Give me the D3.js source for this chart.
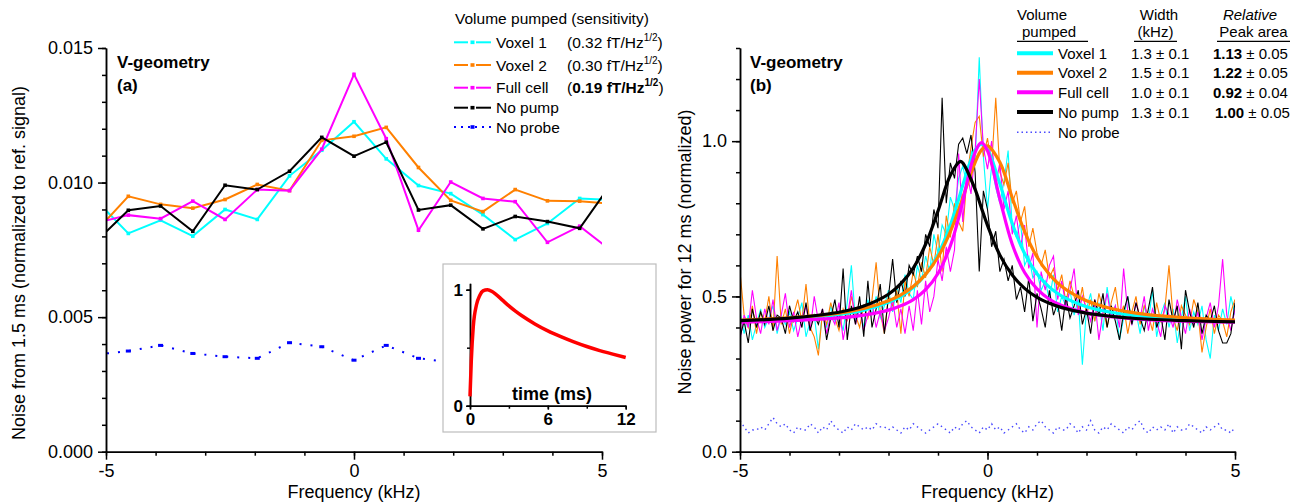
<!DOCTYPE html>
<html>
<head>
<meta charset="utf-8">
<script src="https://cdn.jsdelivr.net/npm/d3@7"></script>
<style>
  body { margin: 0; background: #fff; }
  svg { font-family: "Liberation Sans", Arial, sans-serif; }
  .axis path, .axis line { stroke: #000; stroke-width: 1.5; }
  .axis text { font-size: 18px; fill: #000; font-family: "Liberation Sans", Arial, sans-serif; }
  .inset .axis text { font-size: 17px; font-weight: bold; }
</style>
</head>
<body>
<svg id="chart"></svg>
<script>
// ---------- panel (a): noise from 1.5 ms windows, one point every 0.65 kHz
const freqA = [-5.2, -4.55, -3.9, -3.25, -2.6, -1.95, -1.3, -0.65, 0, 0.65, 1.3, 1.95, 2.6, 3.25, 3.9, 4.55, 5.2];
const voxel1A = [0.00934, 0.00811, 0.00860, 0.00801, 0.00900, 0.00863, 0.01025, 0.01120, 0.01226, 0.01088, 0.00989, 0.00959, 0.00881, 0.00788, 0.00848, 0.00941, 0.00936];
const voxel2A = [0.00819, 0.00949, 0.00919, 0.00905, 0.00937, 0.00993, 0.00970, 0.01157, 0.01172, 0.01205, 0.01056, 0.00934, 0.00892, 0.00974, 0.00932, 0.00931, 0.00921];
const fullA   = [0.00850, 0.00879, 0.00866, 0.00931, 0.00863, 0.00974, 0.00970, 0.01124, 0.01402, 0.01163, 0.00823, 0.01002, 0.00941, 0.00929, 0.00778, 0.00838, 0.00745];
const noPumpA = [0.00781, 0.00897, 0.00913, 0.00819, 0.00990, 0.00974, 0.01042, 0.01168, 0.01098, 0.01150, 0.00898, 0.00916, 0.00828, 0.00874, 0.00855, 0.00830, 0.01000];
const noProbeA = [0.00361, 0.00374, 0.00395, 0.00365, 0.00353, 0.00347, 0.00405, 0.00390, 0.00340, 0.00395, 0.00347, 0.00332];

// inset: pump response vs time
const timeI = [0, 0.1, 0.25, 0.5, 0.75, 1, 1.35, 1.7, 2, 2.5, 3, 3.5, 4, 5, 6, 7, 8, 9, 10, 11, 12];
const respI = [0.08, 0.39, 0.68, 0.87, 0.95, 0.99, 1.0, 0.985, 0.96, 0.91, 0.86, 0.815, 0.775, 0.705, 0.645, 0.595, 0.55, 0.51, 0.475, 0.445, 0.415];

// ---------- panel (b): noise power for 12 ms, bins of 1/12 kHz from -5 kHz
const voxel1B = [.45,.38,.44,.36,.41,.46,.40,.43,.47,.38, .44,.41,.45,.39,.43,.48,.37,.42,.44,.33,
  .45,.40,.47,.42,.44,.39,.48,.60,.42,.46, .40,.49,.44,.50,.43,.47,.52,.45,.53,.48,
  .57,.51,.49,.60,.55,.63,.58,.70,.64,.73, .70,.82,.78,.88,.92,.86,.97,.93,1.27,.95,
  .78,.92,.85,.80,.87,.97,.72,.69,.74,.60, .63,.56,.58,.52,.55,.49,.57,.45,.50,.47,
  .52,.44,.49,.28,.46,.51,.42,.48,.39,.53, .44,.47,.36,.43,.50,.41,.45,.38,.47,.42,
  .52,.37,.44,.48,.40,.46,.35,.43,.50,.39, .45,.41,.47,.36,.30,.44,.39,.46,.41,.50, .44];
const voxel2B = [.58,.44,.40,.47,.38,.45,.42,.50,.39,.63, .41,.46,.38,.44,.49,.42,.54,.40,.37,.31,
  .45,.41,.48,.43,.39,.46,.42,.50,.44,.40, .47,.43,.49,.61,.45,.38,.50,.47,.52,.38,
  .55,.50,.58,.53,.61,.56,.66,.60,.70,.58, .76,.69,.80,.74,.71,.88,.98,1.06,1.08,.95,
  1.01,.92,1.14,.90,.86,.93,.80,.84,.74,.79, .66,.72,.64,.60,.65,.56,.59,.52,.57,.48,
  .55,.50,.46,.53,.44,.49,.42,.51,.46,.40, .48,.53,.43,.47,.38,.45,.50,.41,.47,.44,
  .39,.48,.42,.46,.60,.43,.39,.47,.44,.41, .49,.45,.32,.40,.46,.38,.44,.42,.37,.45, .49];
const fullB = [.36,.44,.40,.52,.43,.38,.46,.41,.49,.39, .44,.51,.40,.45,.37,.43,.47,.39,.50,.42,
  .46,.38,.44,.41,.48,.36,.43,.52,.41,.46, .39,.44,.48,.40,.45,.39,.43,.49,.40,.46,
  .38,.47,.39,.52,.41,.55,.45,.50,.62,.55, .66,.58,.65,.96,.74,.90,.83,.97,1.20,.98,
  .91,1.00,.86,.93,.78,.84,.70,.76,.66,.73, .59,.64,.40,.58,.52,.60,.63,.49,.55,.47,
  .52,.59,.44,.50,.46,.42,.49,.36,.45,.51, .43,.47,.40,.59,.45,.41,.48,.43,.50,.39,
  .46,.42,.37,.47,.44,.40,.49,.43,.38,.46, .41,.45,.36,.43,.48,.40,.47,.62,.44,.39, .46];
const noPumpB = [.37,.42,.35,.46,.40,.45,.41,.47,.39,.44, .43,.38,.47,.42,.45,.40,.48,.39,.44,.41,
  .46,.36,.43,.49,.40,.59,.36,.47,.41,.50, .37,.55,.40,.46,.54,.38,.50,.62,.48,.55,
  .50,.60,.57,.63,.58,.70,.66,.78,.72,1.14, .80,.93,.88,.99,1.01,.96,1.02,.90,.58,.84,
  .78,.66,.71,.58,.62,.55,.60,.49,.53,.45, .56,.42,.51,.46,.40,.52,.44,.48,.39,.50,
  .43,.47,.52,.41,.46,.38,.49,.44,.51,.40, .47,.42,.36,.45,.50,.41,.48,.43,.39,.46,
  .53,.40,.44,.36,.49,.42,.47,.33,.52,.45, .40,.48,.38,.44,.42,.47,.39,.35,.35,.38, .48];
const noProbeB = [.10,.08,.06,.07,.07,.08,.07,.09,.11,.09,.08,.09,.07,.06,.08,.07,.07,.09,.08,.06,
  .08,.07,.10,.08,.07,.06,.08,.07,.09,.08, .07,.08,.07,.09,.08,.08,.07,.08,.07,.06,
  .08,.07,.09,.08,.07,.06,.07,.08,.09,.08, .07,.06,.08,.07,.09,.10,.08,.07,.06,.08,
  .07,.09,.07,.08,.06,.07,.08,.09,.07,.06, .08,.07,.09,.10,.08,.07,.06,.08,.07,.07,
  .09,.08,.06,.08,.07,.10,.07,.06,.08,.07, .09,.08,.07,.06,.08,.07,.09,.10,.07,.06,
  .08,.07,.08,.07,.09,.06,.08,.07,.07,.09, .08,.07,.06,.08,.07,.08,.09,.07,.07,.06, .08];
const binWidthB = 1 / 12;

// Lorentzian fits
const freqFit = [-5, -4, -3, -2.5, -2, -1.75, -1.5, -1.25, -1, -0.75, -0.55, -0.5, -0.25, -0.125, 0, 0.25, 0.5, 0.75, 1, 1.25, 1.5, 2, 2.5, 3, 4, 5];
const voxel1Fit = [.422,.428,.442,.456,.481,.500,.529,.571,.635,.730,.831,.858,.971,.990,.973,.863,.735,.638,.573,.530,.501,.467,.449,.438,.426,.421];
const voxel2Fit = [.424,.431,.446,.461,.486,.505,.532,.571,.627,.709,.794,.818,.932,.971,.985,.932,.818,.709,.627,.571,.532,.486,.461,.446,.431,.424];
const fullFit   = [.417,.422,.431,.440,.456,.470,.490,.522,.574,.663,.773,.806,.964,.995,.969,.813,.668,.577,.524,.491,.471,.447,.435,.428,.420,.417];
const noPumpFit = [.422,.430,.449,.469,.507,.541,.591,.668,.775,.890,.935,.930,.845,.786,.729,.633,.569,.526,.497,.478,.464,.446,.436,.429,.422,.418];

// legend text
const names = ['Voxel 1', 'Voxel 2', 'Full cell', 'No pump', 'No probe'];
const sensitivity = ['0.32', '0.30', '0.19'];
const widths = ['1.3 ± 0.1', '1.5 ± 0.1', '1.0 ± 0.1', '1.3 ± 0.1'];
const areas = ['1.13', '1.22', '0.92', '1.00'];
const areaErr = ['0.05', '0.05', '0.04', '0.05'];

const colors = ['#00ffff', '#ff8000', '#ff00ff', '#000000'];
const noProbeColorA = '#0000ff', noProbeColorB = '#4a4aff';

const svg = d3.select('#chart').attr('width', 1298).attr('height', 502);

function drawAxes(g, x, y, o) {
  const y0 = y.range()[0], x0 = x.range()[0];
  g.append('g').attr('class', 'axis').attr('transform', `translate(0,${y0})`)
    .call(d3.axisBottom(x).tickValues(o.xMinor).tickSize(o.minor).tickFormat('').tickSizeOuter(0));
  g.append('g').attr('class', 'axis').attr('transform', `translate(0,${y0})`)
    .call(d3.axisBottom(x).tickValues(o.xMajor).tickSize(o.major).tickPadding(o.xPad).tickFormat(o.xFmt).tickSizeOuter(0));
  g.append('g').attr('class', 'axis').attr('transform', `translate(${x0},0)`)
    .call(d3.axisLeft(y).tickValues(o.yMinor).tickSize(o.minor).tickFormat('').tickSizeOuter(0));
  g.append('g').attr('class', 'axis').attr('transform', `translate(${x0},0)`)
    .call(d3.axisLeft(y).tickValues(o.yMajor).tickSize(o.major).tickPadding(o.yPad).tickFormat(o.yFmt).tickSizeOuter(0));
}

// ================= panel (a) =================
const xA = d3.scaleLinear().domain([-5, 5]).range([106, 602]);
const yA = d3.scaleLinear().domain([0, 0.015]).range([451.7, 48]);
const gA = svg.append('g');

gA.append('clipPath').attr('id', 'clipA').append('rect')
  .attr('x', xA(-5)).attr('y', 30).attr('width', xA(5) - xA(-5)).attr('height', yA(0) - 30);

const lineA = d3.line().x(d => xA(d[0])).y(d => yA(d[1]));
const plotA = gA.append('g').attr('clip-path', 'url(#clipA)');

// no probe (dotted, with square markers)
const probePts = freqA.slice(0, noProbeA.length).map((f, i) => [f, noProbeA[i]]);
plotA.append('path').datum(probePts).attr('d', lineA)
  .attr('fill', 'none').attr('stroke', noProbeColorA).attr('stroke-width', 2).attr('stroke-dasharray', '2,9');
plotA.selectAll('.mk-probe').data(probePts).join('rect')
  .attr('x', d => xA(d[0]) - 2.5).attr('y', d => yA(d[1]) - 1.5).attr('width', 5).attr('height', 3)
  .attr('fill', noProbeColorA);

[voxel1A, voxel2A, fullA, noPumpA].forEach((vals, k) => {
  const pts = freqA.map((f, i) => [f, vals[i]]);
  plotA.append('path').datum(pts).attr('d', lineA)
    .attr('fill', 'none').attr('stroke', colors[k]).attr('stroke-width', 2);
  plotA.selectAll(null).data(pts).join('rect')
    .attr('x', d => xA(d[0]) - 1.8).attr('y', d => yA(d[1]) - 1.8).attr('width', 3.6).attr('height', 3.6)
    .attr('fill', colors[k]);
});

drawAxes(gA, xA, yA, {
  xMajor: [-5, 0, 5], xMinor: [-5, -4, -3, -2, -1, 0, 1, 2, 3, 4, 5], xFmt: d => String(d), xPad: 5,
  yMajor: [0, 0.005, 0.01, 0.015], yMinor: d3.range(0, 16).map(v => v / 1000), yFmt: d3.format('.3f'), yPad: 5,
  major: 8, minor: 4
});

gA.append('text').attr('x', 354).attr('y', 498).attr('text-anchor', 'middle')
  .attr('font-size', 18).text('Frequency (kHz)');
gA.append('text').attr('transform', 'translate(25,263) rotate(-90)').attr('text-anchor', 'middle')
  .attr('font-size', 18).text('Noise from 1.5 ms (normalized to ref. signal)');
gA.append('text').attr('x', 117).attr('y', 68).attr('font-size', 17).attr('font-weight', 'bold').text('V-geometry');
gA.append('text').attr('x', 117).attr('y', 91).attr('font-size', 17).attr('font-weight', 'bold').text('(a)');

// legend (a)
const legA = gA.append('g').attr('font-size', 15.5);
legA.append('text').attr('x', 455).attr('y', 24).text('Volume pumped (sensitivity)');
const rowA = [42.3, 65, 87.7, 107.7, 127];
names.forEach((n, i) => {
  const cy = rowA[i];
  const c = i < 4 ? colors[i] : noProbeColorA;
  if (i < 4) {
    legA.append('line').attr('x1', 454).attr('x2', 468).attr('y1', cy).attr('y2', cy).attr('stroke', c).attr('stroke-width', 2);
    legA.append('line').attr('x1', 476).attr('x2', 491).attr('y1', cy).attr('y2', cy).attr('stroke', c).attr('stroke-width', 2);
  } else {
    legA.append('line').attr('x1', 454).attr('x2', 491).attr('y1', cy).attr('y2', cy)
      .attr('stroke', c).attr('stroke-width', 2).attr('stroke-dasharray', '2,5');
  }
  legA.append('rect').attr('x', 470.5).attr('y', cy - 1.8).attr('width', 4).attr('height', 3.6).attr('fill', c);
  legA.append('text').attr('x', 496).attr('y', cy + 5.5).text(n);
  if (i < 3) {
    const t = legA.append('text').attr('x', 567).attr('y', cy + 5.5);
    const w = i === 2 ? 'bold' : null;
    t.append('tspan').text('(');
    t.append('tspan').attr('font-weight', w).text(sensitivity[i] + ' fT/Hz');
    t.append('tspan').attr('font-weight', w).attr('font-size', 10).attr('dy', -7).text('1/2');
    t.append('tspan').attr('dy', 7).text(')');
  }
});

// inset
const gI = svg.append('g').attr('class', 'inset');
gI.append('rect').attr('x', 443).attr('y', 264).attr('width', 213).attr('height', 168)
  .attr('fill', '#fff').attr('stroke', '#bdbdbd').attr('stroke-width', 1.2);
const xI = d3.scaleLinear().domain([0, 12]).range([470, 625.7]);
const yI = d3.scaleLinear().domain([0, 1.055]).range([405.7, 283.3]);
drawAxes(gI, xI, yI, {
  xMajor: [0, 6, 12], xMinor: [0, 3, 6, 9, 12], xFmt: d => String(d), xPad: 3,
  yMajor: [0, 1], yMinor: [0, 0.5, 1], yFmt: d => String(d), yPad: 3,
  major: 4, minor: 3
});
gI.append('path').datum(timeI.map((t, i) => [t, respI[i]]))
  .attr('d', d3.line().x(d => xI(d[0])).y(d => yI(d[1])).curve(d3.curveMonotoneX))
  .attr('fill', 'none').attr('stroke', '#ff0000').attr('stroke-width', 3.5);
gI.append('text').attr('x', 512).attr('y', 400).attr('font-size', 18).attr('font-weight', 'bold').text('time (ms)');

// ================= panel (b) =================
const xB = d3.scaleLinear().domain([-5, 5]).range([740, 1235]);
const yB = d3.scaleLinear().domain([0, 1.3]).range([451.7, 48]);
const gB = svg.append('g');
gB.append('clipPath').attr('id', 'clipB').append('rect')
  .attr('x', xB(-5)).attr('y', 30).attr('width', xB(5) - xB(-5)).attr('height', yB(0) - 30);
const plotB = gB.append('g').attr('clip-path', 'url(#clipB)');
const lineB = d3.line().x(d => xB(d[0])).y(d => yB(d[1]));
const binned = vals => vals.map((v, i) => [-5 + i * binWidthB, v]);

plotB.append('path').datum(binned(noProbeB)).attr('d', lineB)
  .attr('fill', 'none').attr('stroke', noProbeColorB).attr('stroke-width', 1.4).attr('stroke-dasharray', '1.5,3.5');

[voxel1B, voxel2B, fullB, noPumpB].forEach((vals, k) => {
  plotB.append('path').datum(binned(vals)).attr('d', lineB)
    .attr('fill', 'none').attr('stroke', colors[k]).attr('stroke-width', 1.1);
});

const fitLine = d3.line().x(d => xB(d[0])).y(d => yB(d[1])).curve(d3.curveCatmullRom.alpha(0.5));
[voxel1Fit, voxel2Fit, fullFit, noPumpFit].forEach((vals, k) => {
  plotB.append('path').datum(freqFit.map((f, i) => [f, vals[i]])).attr('d', fitLine)
    .attr('fill', 'none').attr('stroke', colors[k]).attr('stroke-width', 3.2);
});

drawAxes(gB, xB, yB, {
  xMajor: [-5, 0, 5], xMinor: [-5, -4, -3, -2, -1, 0, 1, 2, 3, 4, 5], xFmt: d => String(d), xPad: 5,
  yMajor: [0, 0.5, 1.0], yMinor: d3.range(0, 14).map(v => v / 10), yFmt: d3.format('.1f'), yPad: 5,
  major: 8, minor: 4
});

gB.append('text').attr('x', 987.5).attr('y', 498).attr('text-anchor', 'middle')
  .attr('font-size', 18).text('Frequency (kHz)');
gB.append('text').attr('transform', 'translate(691,252) rotate(-90)').attr('text-anchor', 'middle')
  .attr('font-size', 18).text('Noise power for 12 ms (normalized)');
gB.append('text').attr('x', 750).attr('y', 68).attr('font-size', 17).attr('font-weight', 'bold').text('V-geometry');
gB.append('text').attr('x', 750).attr('y', 91).attr('font-size', 17).attr('font-weight', 'bold').text('(b)');

// legend (b)
const legB = gB.append('g').attr('font-size', 15);
legB.append('text').attr('x', 1017).attr('y', 20).text('Volume');
legB.append('text').attr('x', 1022).attr('y', 37).text('pumped');
legB.append('text').attr('x', 1159).attr('y', 20).attr('text-anchor', 'middle').text('Width');
legB.append('text').attr('x', 1155.5).attr('y', 37).attr('text-anchor', 'middle').text('(kHz)');
legB.append('text').attr('x', 1250).attr('y', 20).attr('text-anchor', 'middle').attr('font-style', 'italic').text('Relative');
legB.append('text').attr('x', 1253.5).attr('y', 37).attr('text-anchor', 'middle').text('Peak area');
[[1017, 1088], [1134, 1177], [1217, 1290]].forEach(u => {
  legB.append('line').attr('x1', u[0]).attr('x2', u[1]).attr('y1', 41.3).attr('y2', 41.3)
    .attr('stroke', '#000').attr('stroke-width', 1.3);
});
const rowB = [53.3, 72.7, 92.3, 112, 132.3];
names.forEach((n, i) => {
  const cy = rowB[i];
  if (i < 4) {
    legB.append('line').attr('x1', 1017).attr('x2', 1053).attr('y1', cy).attr('y2', cy)
      .attr('stroke', colors[i]).attr('stroke-width', 4);
    legB.append('text').attr('x', 1131).attr('y', cy + 5.5).text(widths[i]);
    const t = legB.append('text').attr('x', i === 3 ? 1215 : 1213).attr('y', cy + 5.5);
    t.append('tspan').attr('font-weight', 'bold').text(areas[i]);
    t.append('tspan').text(' ± ' + areaErr[i]);
  } else {
    legB.append('line').attr('x1', 1017).attr('x2', 1053).attr('y1', cy).attr('y2', cy)
      .attr('stroke', noProbeColorB).attr('stroke-width', 1.4).attr('stroke-dasharray', '1.5,3');
  }
  legB.append('text').attr('x', 1058).attr('y', cy + 5.5).text(n);
});
</script>
</body>
</html>
